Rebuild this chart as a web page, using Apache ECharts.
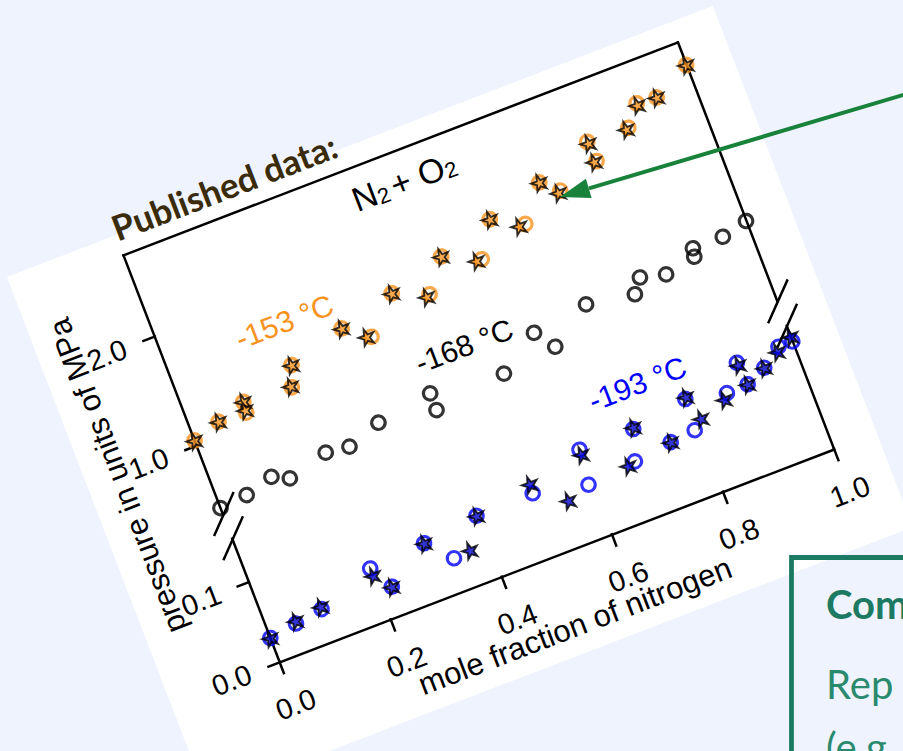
<!DOCTYPE html>
<html>
<head>
<meta charset="utf-8">
<title>N2 + O2 published data</title>
<script src="https://cdn.jsdelivr.net/npm/echarts@6/dist/echarts.min.js"></script>
<style>
  html, body { margin: 0; padding: 0; width: 903px; height: 751px; overflow: hidden; background: #eef3fd; }
  #paper { position: absolute; left: 7px; top: 277px; width: 756px; height: 558px; background: #fff;
           transform-origin: 0 0; transform: rotate(-21deg); }
  #overlay { position: absolute; left: 0; top: 0; width: 903px; height: 751px; pointer-events: none; }
</style>
</head>
<body>
<div id="paper"></div>
<div id="overlay"></div>
<script>
// ---- data: [mole fraction N2, pressure MPa] ----
const circles153 = [[0.000,1.045],[0.049,1.122],[0.100,1.205],[0.098,1.110],[0.185,1.172],[0.198,1.351],
  [0.299,1.491],[0.341,1.332],[0.399,1.618],[0.458,1.494],[0.499,1.761],[0.561,1.614],[0.598,1.910],
  [0.651,1.764],[0.698,2.054],[0.726,1.923],[0.798,2.232],[0.801,2.049],[0.871,2.218],[0.899,2.389],
  [0.934,2.375],[1.000,2.545]];
const stars153 = [[0.000,1.045],[0.049,1.122],[0.100,1.205],[0.098,1.133],[0.184,1.184],[0.198,1.351],
  [0.299,1.491],[0.333,1.347],[0.399,1.618],[0.452,1.483],[0.499,1.761],[0.552,1.618],[0.598,1.910],
  [0.640,1.765],[0.698,2.054],[0.722,1.912],[0.799,2.217],[0.797,2.051],[0.867,2.213],[0.899,2.373],
  [0.934,2.375],[1.000,2.545]];
const circles168 = [[0.000,0.422],[0.049,0.446],[0.099,0.516],[0.127,0.447],[0.199,0.543],[0.240,0.518],
  [0.300,0.621],[0.399,0.697],[0.399,0.543],[0.527,0.628],[0.599,0.863],[0.624,0.686],[0.698,0.931],
  [0.781,0.862],[0.799,0.981],[0.842,0.925],[0.900,1.052],[0.897,0.980],[0.954,1.052],[1.000,1.107]];
const circles193 = [[0.000,0.030],[0.049,0.035],[0.098,0.040],[0.199,0.064],[0.222,0.035],[0.299,0.069],
  [0.337,0.040],[0.398,0.077],[0.500,0.078],[0.593,0.064],[0.600,0.106],[0.680,0.070],[0.697,0.106],
  [0.748,0.076],[0.793,0.079],[0.797,0.117],[0.866,0.106],[0.900,0.135],[0.904,0.107],[0.940,0.118],
  [0.975,0.135],[1.000,0.135]];
const stars193 = [[0.000,0.030],[0.050,0.038],[0.098,0.043],[0.199,0.055],[0.222,0.035],[0.299,0.069],
  [0.367,0.042],[0.398,0.077],[0.501,0.089],[0.552,0.055],[0.600,0.100],[0.667,0.068],[0.698,0.108],
  [0.748,0.076],[0.799,0.119],[0.810,0.089],[0.858,0.100],[0.901,0.132],[0.904,0.107],[0.940,0.118],
  [0.970,0.130],[1.000,0.141]];

// axis ticks and ranges (broken pressure axis: upper and lower panel)
const xTicks = [0.0, 0.2, 0.4, 0.6, 0.8, 1.0];
const upperTicks = [1.0, 2.0];
const lowerTicks = [0.0, 0.1];
const upperRange = [0.364, 2.75];
const lowerRange = [0, 0.1544];

// text placed in data units: [x, p], panel 0 = upper, 1 = lower
const tempLabels = [
  { text: '-153 \u00b0C', at: [0.213, 1.722], panel: 0, color: '#f7931e' },
  { text: '-168 \u00b0C', at: [0.481, 0.974], panel: 0, color: '#000000' },
  { text: '-193 \u00b0C', at: [0.731, 0.1538], panel: 1, color: '#0000ff' }
];
const titleAt = [0.486, 2.478];

// ---- styling ----
const FONT = '"Liberation Sans", Arial, sans-serif';
const ORANGE = '#f7931e', BLUE = '#0000ff', INK = '#000000';
const W = 756, H = 558;
const LEFT = 116.5, RIGHT = 46, TOP = 21.5, UP_BOTTOM = 299, LOW_TOP = 325, BOTTOM = 457;
const STAR = 'path://M0,-10L2.245,-3.09L9.511,-3.09L3.633,1.18L5.878,8.09L0,3.82L-5.878,8.09L-3.633,1.18L-9.511,-3.09L-2.245,-3.09Z';

const lineStyle = { color: INK, width: 2.5, cap: 'square' };
const tickLabel = { fontSize: 29, fontFamily: FONT, color: INK, margin: 31, formatter: v => v.toFixed(1) };

function frameAxis(extra) {
  return Object.assign({
    type: 'value',
    axisLine: { show: true, onZero: false, lineStyle: lineStyle },
    axisTick: { show: false },
    axisLabel: { show: false },
    splitLine: { show: false }
  }, extra);
}

function scatter(data, panel, symbol, size, itemStyle, z) {
  return {
    type: 'scatter', data: data,
    xAxisIndex: panel ? 1 : 0, yAxisIndex: panel ? 2 : 0,
    symbol: symbol, symbolSize: size, itemStyle: itemStyle,
    clip: false, silent: true, z: z
  };
}

const paper = echarts.init(document.getElementById('paper'), null, { renderer: 'svg', width: W, height: H });

const option = {
  animation: false,
  backgroundColor: '#fff',
  grid: [
    { left: LEFT, right: RIGHT, top: TOP, height: UP_BOTTOM - TOP, containLabel: false, outerBoundsMode: 'none' },
    { left: LEFT, right: RIGHT, top: LOW_TOP, height: BOTTOM - LOW_TOP, containLabel: false, outerBoundsMode: 'none' }
  ],
  xAxis: [
    frameAxis({ gridIndex: 0, min: 0, max: 1, position: 'top' }),
    frameAxis({
      gridIndex: 1, min: 0, max: 1, position: 'bottom',
      axisTick: { show: true, length: 12, customValues: xTicks, lineStyle: lineStyle },
      axisLabel: Object.assign({ customValues: xTicks }, tickLabel),
      name: 'mole fraction of nitrogen', nameLocation: 'middle', nameGap: 57, nameMoveOverlap: false,
      nameTextStyle: { fontSize: 31, fontFamily: FONT, color: INK, padding: [0, 16, 0, 0] }
    })
  ],
  yAxis: [
    frameAxis({
      gridIndex: 0, min: upperRange[0], max: upperRange[1], position: 'left',
      axisTick: { show: true, length: 12, customValues: upperTicks, lineStyle: lineStyle },
      axisLabel: Object.assign({ customValues: upperTicks }, tickLabel)
    }),
    frameAxis({ gridIndex: 0, min: upperRange[0], max: upperRange[1], position: 'right' }),
    frameAxis({
      gridIndex: 1, min: lowerRange[0], max: lowerRange[1], position: 'left',
      axisTick: { show: true, length: 12, customValues: lowerTicks, lineStyle: lineStyle },
      axisLabel: Object.assign({ customValues: lowerTicks }, tickLabel)
    }),
    frameAxis({ gridIndex: 1, min: lowerRange[0], max: lowerRange[1], position: 'right' })
  ],
  series: [
    scatter(circles153, 0, 'circle', 13.5, { color: 'rgba(0,0,0,0)', borderColor: ORANGE, borderWidth: 3.2 }, 2),
    scatter(stars153, 0, STAR, 16, { color: ORANGE, borderColor: INK, borderWidth: 1.9 }, 3),
    scatter(circles168, 0, 'circle', 13.5, { color: 'rgba(0,0,0,0)', borderColor: INK, borderWidth: 3.1 }, 2),
    scatter(circles193, 1, 'circle', 13.5, { color: 'rgba(0,0,0,0)', borderColor: BLUE, borderWidth: 3 }, 2),
    scatter(stars193, 1, STAR, 16, { color: '#0000cc', borderColor: INK, borderWidth: 1.9 }, 3)
  ]
};
paper.setOption(option);

// labels and axis-break marks, placed through the axes
const toPx = (panel, p) => paper.convertToPixel(panel ? { xAxisIndex: 1, yAxisIndex: 2 } : { xAxisIndex: 0, yAxisIndex: 0 }, p);
const graphics = [];
tempLabels.forEach(l => {
  const p = toPx(l.panel, l.at);
  graphics.push({ type: 'text', x: p[0], y: p[1], z: 10,
    style: { text: l.text, fontSize: 30, fontFamily: FONT, fill: l.color, align: 'center', verticalAlign: 'middle' } });
});
const tp = toPx(0, titleAt);
graphics.push({ type: 'text', x: tp[0], y: tp[1], z: 10,
  style: {
    text: '{m|N}{s1|2}{m|+ O}{s|2}', align: 'center', verticalAlign: 'middle',
    rich: {
      m: { fontSize: 34, fontFamily: FONT, fill: INK, lineHeight: 34, verticalAlign: 'top' },
      s1: { fontSize: 22, fontFamily: FONT, fill: INK, lineHeight: 22, padding: [17, 4, 0, 0], verticalAlign: 'bottom' },
      s: { fontSize: 22, fontFamily: FONT, fill: INK, lineHeight: 22, padding: [17, 0, 0, 0], verticalAlign: 'bottom' }
    }
  } });
graphics.push({ type: 'text', x: 32, y: (TOP + BOTTOM) / 2 - 14, rotation: Math.PI / 2, z: 10,
  style: { text: 'pressure in units of MPa', fontSize: 31, fontFamily: FONT, fill: INK, align: 'center', verticalAlign: 'middle' } });
[LEFT + 1, W - RIGHT + 1].forEach(ax => {
  [UP_BOTTOM, LOW_TOP].forEach(v => {
    graphics.push({ type: 'line', z: 10,
      shape: { x1: ax - 17, y1: v + 17, x2: ax + 17, y2: v - 17 },
      style: { stroke: INK, lineWidth: 2.5 } });
  });
});
paper.setOption({ graphic: graphics });

// ---- slide overlay: heading, arrow, comment box ----
const GREEN = '#18823a', BOX = '#1c7a62';
const overlay = echarts.init(document.getElementById('overlay'), null, { renderer: 'svg', width: 903, height: 751 });
overlay.setOption({
  animation: false,
  graphic: [
    { type: 'text', x: 224, y: 186, rotation: 21 * Math.PI / 180,
      style: { text: 'Published data:', fontSize: 35, fontWeight: 'bold', fontFamily: 'Lato', fill: '#3a2b0a',
               align: 'center', verticalAlign: 'middle' } },
    { type: 'line', shape: { x1: 915, y1: 91.4, x2: 589, y2: 188.4 }, style: { stroke: GREEN, lineWidth: 4 } },
    { type: 'polygon', shape: { points: [[560, 197], [585.9, 178.8], [591.6, 198]] }, style: { fill: GREEN } },
    { type: 'rect', shape: { x: 791.5, y: 557.5, width: 300, height: 300 },
      style: { fill: 'none', stroke: BOX, lineWidth: 4.8 } },
    { type: 'text', x: 826, y: 604,
      style: { text: 'Com', fontSize: 40, fontWeight: 'bold', fontFamily: 'Lato', fill: BOX, verticalAlign: 'middle' } },
    { type: 'text', x: 826, y: 684,
      style: { text: 'Rep', fontSize: 40, fontFamily: 'Lato', fill: '#2a8a6e', verticalAlign: 'middle' } },
    { type: 'text', x: 826, y: 747,
      style: { text: '(e.g.', fontSize: 40, fontFamily: 'Lato', fill: '#2a8a6e', verticalAlign: 'middle' } }
  ]
});
</script>
</body>
</html>
